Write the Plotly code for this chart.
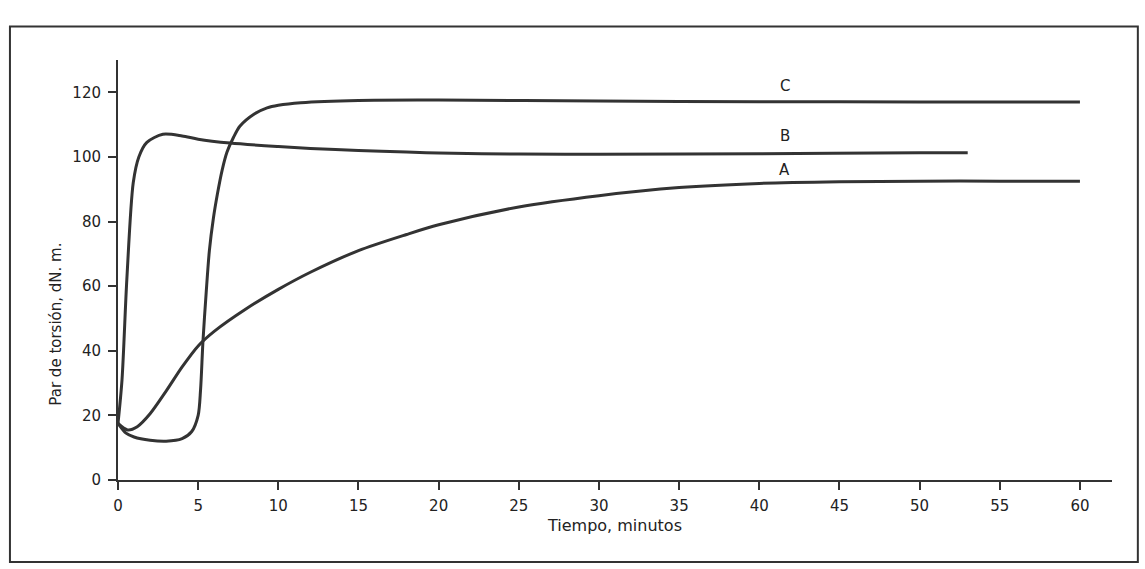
import plotly.graph_objects as go

# Curve A
t_A = [0, 0.6, 1.2, 2, 3, 4, 5, 6, 8, 10, 12, 15, 18, 20, 25, 30, 35, 40, 45, 50, 55, 60]
A = [17.5, 15.5, 16.5, 20.5, 27.5, 35, 41.5, 46, 53, 59, 64.3, 71, 76, 79, 84.5, 88, 90.5, 91.8, 92.3, 92.5, 92.5, 92.5]

# Curve B
t_B = [0, 0.25, 0.55, 0.95, 1.3, 1.8, 2.8, 4, 5, 7, 10, 12, 15, 18, 20, 25, 30, 40, 50, 53]
B = [17.5, 31, 62, 92, 100, 104.5, 107, 106.5, 105.5, 104.3, 103.2, 102.6, 102, 101.5, 101.2, 100.9, 100.8, 101, 101.3, 101.3]

# Curve C
t_C = [0, 0.5, 1, 2, 3, 4, 4.6, 5.0, 5.15, 5.3, 5.5, 5.7, 5.95, 6.2, 6.5, 6.8, 7.2, 7.6, 8.5, 9.3, 10, 11.4, 15, 20, 30, 40, 50, 60]
C = [17.5, 14.5, 13.3, 12.3, 12, 12.8, 15, 20, 28, 43, 58, 71, 81, 88.5, 96, 101.5, 106, 109.5, 113.3, 115.2, 116, 116.8, 117.5, 117.6, 117.3, 117.1, 117, 117]

# Label positions
labels = ["A", "B", "C"]
label_x = [41.6, 41.6, 41.6]
label_y = [96, 106.5, 122]

x_ticks = list(range(0, 61, 5))
y_ticks = list(range(0, 121, 20))

line_col = "#333333"
font_fam = "DejaVu Sans, Verdana, sans-serif"

fig = go.Figure()
for t, v in [(t_A, A), (t_B, B), (t_C, C)]:
    fig.add_trace(go.Scatter(x=t, y=v, mode="lines",
                             line=dict(color=line_col, width=3, shape="spline", smoothing=0.8),
                             hoverinfo="skip"))

for lab, lx, ly in zip(labels, label_x, label_y):
    fig.add_annotation(x=lx, y=ly, text=lab, showarrow=False,
                       font=dict(size=15, color="#222", family=font_fam))

# y-axis title (placed lower than centre, as in the reference)
fig.add_annotation(xref="paper", yref="paper", x=-0.0734, y=0.37,
                   text="Par de torsión, dN. m.", textangle=-90, showarrow=False,
                   font=dict(size=15, color="#222", family=font_fam))

fig.update_layout(
    width=1145, height=569,
    margin=dict(l=118, r=33, t=60, b=89),
    paper_bgcolor="white", plot_bgcolor="white",
    showlegend=False,
    font=dict(family=font_fam, color="#222"),
    xaxis=dict(range=[0, 62], tickvals=x_ticks, ticks="outside", ticklen=8, tickwidth=2,
               tickcolor=line_col, showline=True, linecolor=line_col, linewidth=2,
               showgrid=False, zeroline=False, tickfont=dict(size=15), ticklabelstandoff=3,
               title=dict(text="Tiempo, minutos", font=dict(size=16), standoff=6)),
    yaxis=dict(range=[0, 130], tickvals=y_ticks, ticks="outside", ticklen=8, tickwidth=2,
               tickcolor=line_col, showline=True, linecolor=line_col, linewidth=2,
               showgrid=False, zeroline=False, tickfont=dict(size=15), ticklabelstandoff=4),
)

# outer frame around the figure
fig.add_shape(type="rect", xref="paper", yref="paper",
              x0=-0.1087, x1=1.026, y0=-0.195, y1=1.08,
              line=dict(color=line_col, width=2), fillcolor="rgba(0,0,0,0)")

fig.write_html("out.html")
